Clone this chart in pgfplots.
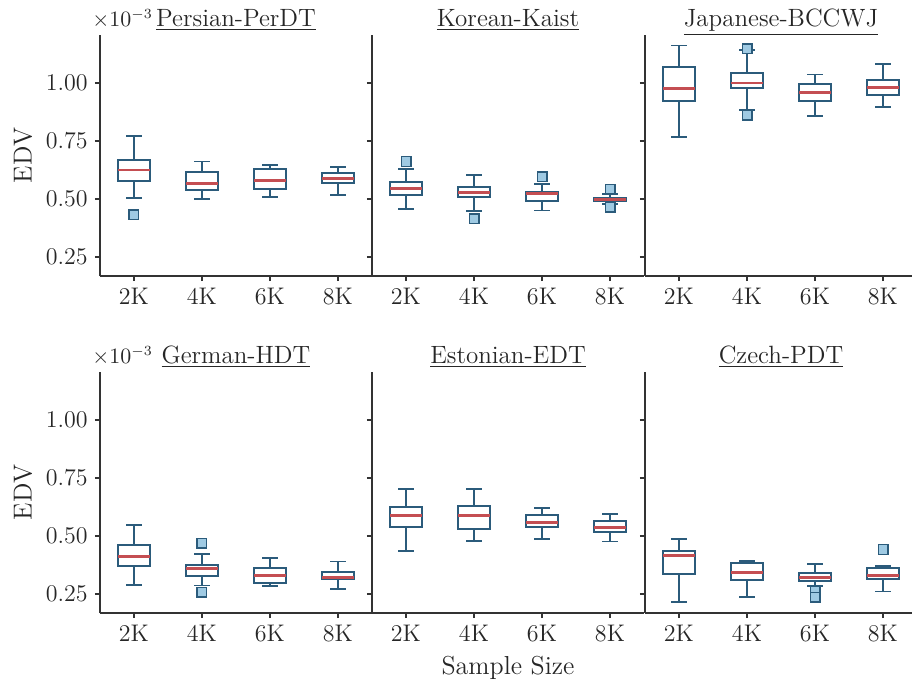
\documentclass[border=0pt]{standalone}
\usepackage{pgfplots}
\pgfplotsset{compat=1.18}
\usepgfplotslibrary{statistics}
\definecolor{boxc}{HTML}{2B5B7B}
\definecolor{medc}{HTML}{C44E52}
\definecolor{outc}{HTML}{9FCAE3}
\definecolor{spine}{HTML}{333333}
\definecolor{txt}{HTML}{262626}
\pgfplotsset{
  panel/.style={
    scale only axis, width=136pt, height=120.5pt,
    xmin=-0.5, xmax=3.5, ymin=0.168, ymax=1.207,
    axis x line*=bottom, axis y line*=left,
    axis line style={draw=spine, line width=0.65pt, -},
    tick align=outside, major tick length=2.6pt,
    tick style={draw=spine, line width=0.65pt},
    xtick={0,1,2,3}, xticklabels={2K,4K,6K,8K},
    ytick={0.25,0.5,0.75,1},
    tick label style={font=\fontsize{12}{14}\selectfont, text=txt},
    title style={font=\fontsize{12.5}{15}\selectfont, text=txt, at={(0.5,1)}, anchor=base, yshift=-1.7pt},
    label style={font=\fontsize{13}{15}\selectfont, text=txt},
    boxplot/draw direction=y,
    boxplot/box extend=0.46, boxplot/whisker extend=0.23,
    boxplot/every box/.style={draw=boxc, line width=1pt, fill=white},
    boxplot/every whisker/.style={draw=boxc, line width=0.9pt},
    boxplot/every median/.style={draw=medc, line width=1.45pt},
    clip=false,
  },
  leftpanel/.style={
    yticklabel style={/pgf/number format/fixed, /pgf/number format/precision=2, /pgf/number format/fixed zerofill},
    extra description/.code={\node[anchor=base west, inner sep=0pt, font=\fontsize{10.5}{12}\selectfont, text=txt, xshift=-4pt, yshift=4.2pt] at (rel axis cs:0,1) {$\times 10^{-3}$};},
  },
  innerpanel/.style={yticklabels={}},
  bstyle/.style={draw=boxc, line width=1pt, mark=square*, mark size=2.4pt, mark options={fill=outc, draw=boxc, line width=0.7pt, solid}},
}
% draw position, low whisker, Q1, median, Q3, high whisker, outliers (values in units of 1e-3)
\newcommand{\bx}[7]{\addplot[bstyle, boxplot prepared={draw position=#1, lower whisker=#2, lower quartile=#3, median=#4, upper quartile=#5, upper whisker=#6}] coordinates {#7};}
\begin{document}
\begin{tikzpicture}
\path[use as bounding box] (0,0) rectangle (456pt,-340.5pt);
% Persian-PerDT
\begin{axis}[panel, leftpanel, at={(50pt,-17.5pt)}, anchor=north west, title={\underline{Persian-PerDT}}, ylabel={EDV}]
\bx{0}{0.503}{0.579}{0.625}{0.670}{0.770}{(0,0.432)}
\bx{1}{0.501}{0.539}{0.566}{0.615}{0.662}{}
\bx{2}{0.510}{0.545}{0.578}{0.628}{0.645}{}
\bx{3}{0.516}{0.570}{0.588}{0.612}{0.639}{}
\end{axis}
% Korean-Kaist
\begin{axis}[panel, innerpanel, at={(186pt,-17.5pt)}, anchor=north west, title={\underline{Korean-Kaist}}]
\bx{0}{0.457}{0.519}{0.546}{0.572}{0.629}{(0,0.662)}
\bx{1}{0.447}{0.507}{0.527}{0.552}{0.603}{(1,0.415)}
\bx{2}{0.450}{0.491}{0.522}{0.530}{0.565}{(2,0.596)}
\bx{3}{0.477}{0.490}{0.497}{0.504}{0.520}{(3,0.542) (3,0.464)}
\end{axis}
% Japanese-BCCWJ
\begin{axis}[panel, innerpanel, at={(322.5pt,-17.5pt)}, anchor=north west, title={\underline{Japanese-BCCWJ}}]
\bx{0}{0.767}{0.924}{0.976}{1.069}{1.162}{}
\bx{1}{0.882}{0.977}{1.000}{1.045}{1.144}{(1,1.147) (1,0.861)}
\bx{2}{0.859}{0.922}{0.961}{0.997}{1.037}{}
\bx{3}{0.898}{0.948}{0.981}{1.014}{1.083}{}
\end{axis}
% German-HDT
\begin{axis}[panel, leftpanel, at={(50pt,-186pt)}, anchor=north west, title={\underline{German-HDT}}, ylabel={EDV}]
\bx{0}{0.290}{0.372}{0.411}{0.460}{0.547}{}
\bx{1}{0.287}{0.329}{0.359}{0.374}{0.423}{(1,0.469) (1,0.258)}
\bx{2}{0.283}{0.297}{0.328}{0.362}{0.404}{}
\bx{3}{0.271}{0.313}{0.320}{0.346}{0.390}{}
\end{axis}
% Estonian-EDT
\begin{axis}[panel, innerpanel, at={(186pt,-186pt)}, anchor=north west, title={\underline{Estonian-EDT}}, xlabel={Sample Size}]
\bx{0}{0.437}{0.537}{0.589}{0.626}{0.704}{}
\bx{1}{0.479}{0.531}{0.590}{0.631}{0.701}{}
\bx{2}{0.486}{0.540}{0.557}{0.592}{0.622}{}
\bx{3}{0.476}{0.518}{0.537}{0.563}{0.595}{}
\end{axis}
% Czech-PDT
\begin{axis}[panel, innerpanel, at={(322.5pt,-186pt)}, anchor=north west, title={\underline{Czech-PDT}}]
\bx{0}{0.215}{0.338}{0.417}{0.434}{0.488}{}
\bx{1}{0.238}{0.309}{0.342}{0.385}{0.392}{}
\bx{2}{0.286}{0.307}{0.322}{0.339}{0.378}{(2,0.262) (2,0.237)}
\bx{3}{0.261}{0.315}{0.330}{0.361}{0.371}{(3,0.442)}
\end{axis}
\end{tikzpicture}
\end{document}
